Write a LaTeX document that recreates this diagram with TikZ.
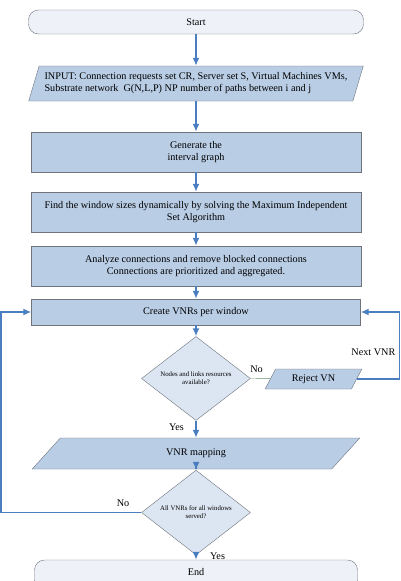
\documentclass[tikz,border=0pt]{standalone}
\usepackage{fontspec}
\setmainfont{Liberation Serif}
\usetikzlibrary{shapes.geometric,positioning,arrows.meta}

\definecolor{boxfill}{HTML}{B9CDE5}
\definecolor{decfill}{HTML}{DCE6F2}
\definecolor{termfill}{HTML}{EEF2F8}
\definecolor{flowblue}{HTML}{4A7EC0}
\definecolor{edge}{HTML}{6E737C}

\begin{document}
\begin{tikzpicture}[
x=1pt,y=-1pt,
font=\fontsize{10.2}{12}\selectfont,
term/.style={
  draw=edge,
  fill=termfill,
  rounded corners=10pt,
  inner sep=2pt
},
proc/.style={
  draw=edge,
  fill=boxfill,
  align=center,
  inner sep=2pt
},
io/.style={
  draw=edge,
  fill=boxfill,
  trapezium,
  trapezium stretches=true,
  trapezium left angle=68,
  trapezium right angle=112,
  align=left,
  inner sep=2pt
},
dec/.style={
  draw=edge,
  fill=decfill,
  diamond,
  align=center,
  inner sep=0pt,
  minimum width=109pt,
  minimum height=59pt,
  font=\fontsize{6.8}{8}\selectfont
},
flow/.style={
  draw=flowblue,
  line width=1.6pt,
  -{Latex[length=8pt,width=7pt]}
}
]
\useasboundingbox (0,0) rectangle (401,581);

\node[term,minimum width=335pt,minimum height=24pt] at (196,22)
  (start) {Start};
\node[io,minimum width=335pt,minimum height=35pt] at (196,83.5)
  (input) {INPUT: Connection requests set CR, Server set S, Virtual Machines VMs,\\
           Substrate network\ \ G(N,L,P) NP number of paths between i and j};
\node[proc,minimum width=330pt,minimum height=40pt] at (196,152)
  (graph) {Generate the\\ interval graph};
\node[proc,minimum width=330pt,minimum height=40pt] at (196,212)
  (window) {Find the window sizes dynamically by solving the Maximum Independent\\ Set Algorithm};
\node[proc,minimum width=330pt,minimum height=40pt] at (196,266)
  (analyze) {Analyze connections and remove blocked connections\\ Connections are prioritized and aggregated.};
\node[proc,minimum width=329pt,minimum height=26pt] at (196,312)
  (create) {Create VNRs per window};
\node[dec] at (196,378.5)
  (avail) {Nodes and links resources\\ available?};
\node[io,minimum width=97pt,minimum height=20pt,trapezium left angle=63,trapezium right angle=117] at (313.5,379)
  (reject) {Reject VN};
\node[io,minimum width=330pt,minimum height=31pt,trapezium left angle=63,trapezium right angle=117] at (196,453.5)
  (map) {VNR mapping};
\node[dec] at (196,512.5)
  (served) {All VNRs for all windows\\ served?};
\node[term,minimum width=323pt,minimum height=30pt] at (196,575)
  (end) {\raisebox{6pt}{End}};

\coordinate (rloop) at (399.5,0);
\coordinate (lloop) at (1,0);

\draw[flow] (start) -- (input);
\draw[flow] (input) -- (graph);
\draw[flow] (graph) -- (window);
\draw[flow] (window) -- (analyze);
\draw[flow] (analyze) -- (create);
\draw[flow] (create) -- (avail);
\draw[flow] (avail) -- node[left=8pt,pos=0.4] {Yes} (map);
\draw[flow] (map) -- (served);
\draw[flow] (served) -- node[right=10pt,pos=0.3] {Yes} (end);

\draw[draw=edge!70!green!60!gray] (avail.east) -- node[above=2pt,pos=0.3] {No} (reject);
\draw[flow] (reject.east) -- (reject.east -| rloop) |- node[left=0pt,pos=0.2] {Next VNR} (create.east);
\draw[flow] (served.west) -- node[above=2pt,pos=0.13] {No} (served.west -| lloop) |- (create.west);
\end{tikzpicture}
\end{document}
